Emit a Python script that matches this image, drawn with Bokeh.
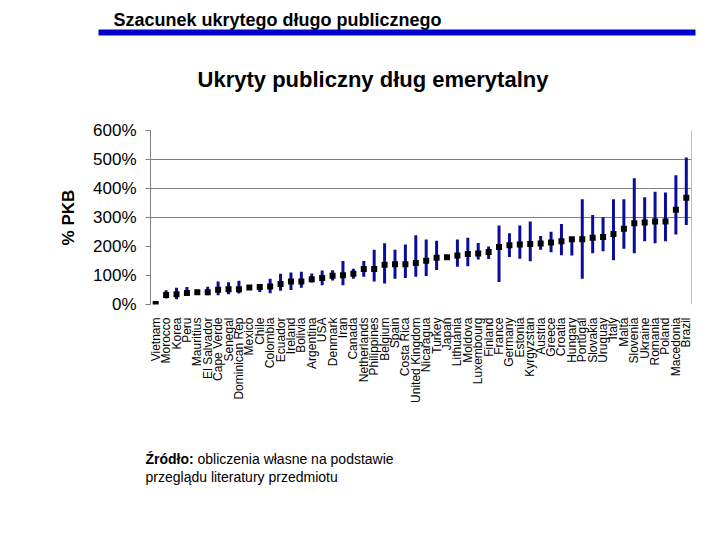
import math
from bokeh.plotting import figure
from bokeh.layouts import column
from bokeh.models import FixedTicker, Span, Range1d
from bokeh.core.properties import value
from bokeh.embed import file_html
from bokeh.resources import INLINE

countries = ["Vietnam", "Morocco", "Korea", "Peru", "Mauritius", "El Salvador", "Cape Verde",
             "Senegal", "Dominican Rep", "Mexico", "Chile", "Colombia", "Ecuador", "Ireland",
             "Bolivia", "Argentina", "USA", "Denmark", "Iran", "Canada", "Netherlands",
             "Philippines", "Belgium", "Spain", "Costa Rica", "United Kingdom", "Nicaragua",
             "Turkey", "Japan", "Lithuania", "Moldova", "Luxembourg", "Finland", "France",
             "Germany", "Estonia", "Kyrgyzstan", "Austria", "Greece", "Croatia", "Hungary",
             "Portugal", "Slovakia", "Uruguay", "Italy", "Malta", "Slovenia", "Ukraine",
             "Romania", "Poland", "Macedonia", "Brazil"]

nan = float("nan")
debt = [2, 33, 35, 40, 42, 42, 51, 53, 53, 59, 60, 62, 71, 79, 79, 87, 91, 99, 101, 106,
        122, 122, 137, 139, 139, 143, 151, 161, 163, 169, 174, 176, 181, 198, 204, 207,
        209, 210, 214, 218, 225, 225, 230, 233, 243, 261, 280, 283, 286, 286, 327, 368]
low = [nan, 21, 18, 29, nan, 32, 32, 35, 38, nan, 43, 39, 47, 50, 58, 76, 66, 83, 66, 89,
       96, 79, 72, 89, 91, 96, 98, 119, nan, 130, 132, 155, 157, 78, 164, 158, 149, 189,
       180, 170, 169, 89, 177, 184, 153, 192, 177, 218, 211, 218, 241, 274]
high = [nan, 49, 58, 60, nan, 61, 79, 77, 82, nan, 69, 89, 106, 110, 113, 107, 117, 118,
        150, 123, 150, 189, 211, 189, 207, 239, 224, 220, nan, 224, 230, 212, 200, 272,
        246, 272, 286, 236, 251, 278, 233, 363, 309, 301, 363, 363, 435, 370, 389, 386,
        446, 507]

y_ticks = [0, 100, 200, 300, 400, 500, 600]
y_tick_labels = ["0%", "100%", "200%", "300%", "400%", "500%", "600%"]
grid_ticks = [300, 400, 500, 600]

header = "Szacunek ukrytego długo publicznego"
title = "Ukryty publiczny dług emerytalny"
y_label = "% PKB"
source_bold = "Źródło:"
source_1 = "obliczenia własne na podstawie"
source_2 = "przeglądu literatury przedmiotu"

FONT = "Liberation Sans"
W = 712
HEAD_H = 115
MAIN_H = 290
FOOT_H = 127


def blank(h):
    f = figure(width=W, height=h, x_range=Range1d(0, W), y_range=Range1d(h, 0),
               output_backend="svg", toolbar_location=None,
               x_axis_location=None, y_axis_location=None, min_border=0,
               frame_align=False)
    f.min_border_left = f.min_border_right = f.min_border_top = f.min_border_bottom = 0
    f.outline_line_color = None
    f.xgrid.visible = False
    f.ygrid.visible = False
    f.background_fill_color = "white"
    f.border_fill_color = "white"
    return f


# ---- header panel
head = blank(HEAD_H)
head.text(x=[113], y=[19], text=[header], text_font=value(FONT), text_font_size="18px",
          text_font_style="bold", text_baseline="alphabetic", text_align="left",
          text_color="black")
head.quad(left=[98], right=[695], top=[29], bottom=[35], fill_color="#0000cc",
          line_color=None)
head.text(x=[372.5], y=[79], text=[title], text_font=value(FONT), text_font_size="22px",
          text_font_style="bold", text_baseline="alphabetic", text_align="center",
          text_color="black")

# ---- main chart
p = figure(x_range=countries, y_range=(0, 600), width=W, height=MAIN_H,
           output_backend="svg", toolbar_location=None, frame_align=False,
           min_border_left=150, min_border_right=21, min_border_top=15,
           min_border_bottom=100)
p.outline_line_color = None
p.background_fill_color = "white"
p.border_fill_color = "white"

p.segment(x0=countries, y0=low, x1=countries, y1=high, line_width=3, line_color="#0c0c9c")
p.scatter(x=countries, y=debt, marker="square", size=6, fill_color="black", line_color=None)

ya = p.yaxis[0]
ya.ticker = FixedTicker(ticks=y_ticks)
ya.major_label_overrides = {t: l for t, l in zip(y_ticks, y_tick_labels)}
ya.major_label_text_font = FONT
ya.major_label_text_font_size = "17px"
ya.major_label_text_color = "black"
ya.axis_line_color = "#808080"
ya.major_tick_line_color = "#808080"
ya.major_tick_out = 5
ya.major_tick_in = 0
ya.minor_tick_line_color = None
ya.major_label_standoff = 9
ya.axis_label = y_label
ya.axis_label_text_font = FONT
ya.axis_label_text_font_size = "17px"
ya.axis_label_text_font_style = "bold"
ya.axis_label_text_color = "black"
ya.axis_label_standoff = 12

xa = p.xaxis[0]
xa.major_label_orientation = math.pi / 2
xa.major_label_text_font = FONT
xa.major_label_text_font_size = "12px"
xa.major_label_text_color = "black"
xa.axis_line_color = None
xa.major_tick_line_color = None
xa.major_label_standoff = 7

p.xgrid.grid_line_color = None
p.ygrid.ticker = FixedTicker(ticks=grid_ticks)
p.ygrid.grid_line_color = "#808080"
p.ygrid.grid_line_width = 1

p.add_layout(Span(location=len(countries), dimension="height", line_color="#808080",
                  line_width=1))

# ---- footer panel
foot = blank(FOOT_H)
foot.text(x=[145], y=[53], text=[source_bold], text_font=value(FONT), text_font_size="14px",
          text_font_style="bold", text_baseline="alphabetic", text_align="left",
          text_color="black")
foot.text(x=[197], y=[53], text=[source_1], text_font=value(FONT), text_font_size="14px",
          text_baseline="alphabetic", text_align="left", text_color="black")
foot.text(x=[145], y=[71], text=[source_2], text_font=value(FONT), text_font_size="14px",
          text_baseline="alphabetic", text_align="left", text_color="black")

layout = column(head, p, foot, spacing=0)
open("out.html", "w").write(file_html(layout, INLINE))
